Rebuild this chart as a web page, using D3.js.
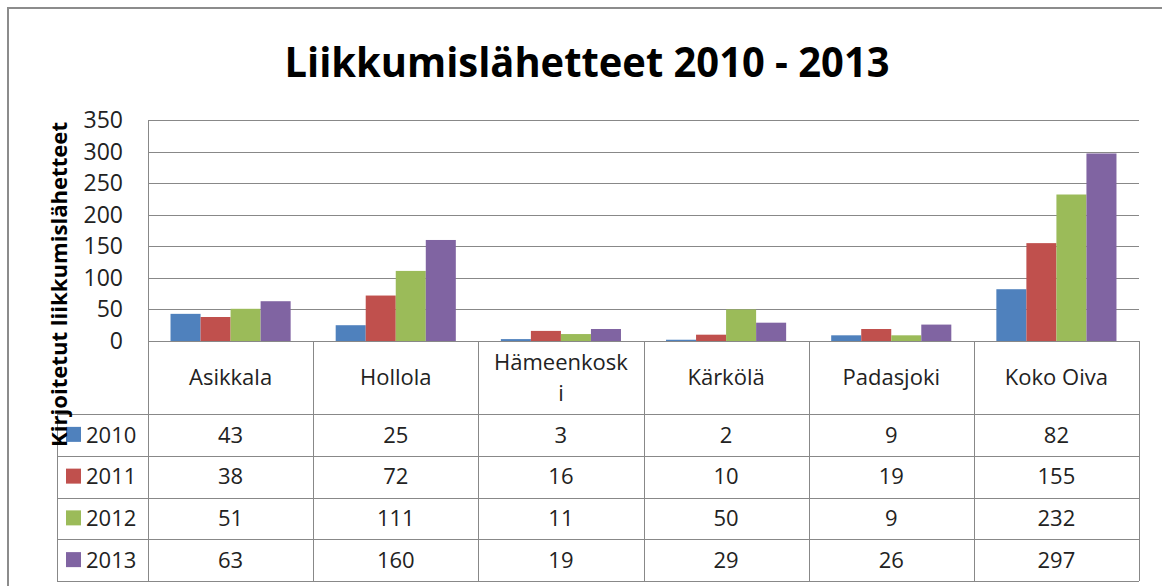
<!DOCTYPE html>
<html lang="fi">
<head>
    <meta charset="UTF-8">
    <title>Liikkumislähetteet 2010 - 2013</title>
    <script src="https://d3js.org/d3.v7.min.js"></script>
    <style>
        body {
            margin: 0;
            background-color: #fff;
        }
        svg text {
            font-family: "Open Sans", "Noto Sans", sans-serif;
        }
    </style>
</head>
<body>
    <svg id="chart" width="1162" height="586"></svg>
    <script>
        // Data
        const categories = ["Asikkala", "Hollola", "Hämeenkoski", "Kärkölä", "Padasjoki", "Koko Oiva"];
        const years = ["2010", "2011", "2012", "2013"];
        const values2010 = [43, 25, 3, 2, 9, 82];
        const values2011 = [38, 72, 16, 10, 19, 155];
        const values2012 = [51, 111, 11, 50, 9, 232];
        const values2013 = [63, 160, 19, 29, 26, 297];
        const yTicks = [0, 50, 100, 150, 200, 250, 300, 350];
        const colors = ["#4f81bd", "#c0504d", "#9bbb59", "#8064a2"];

        const series = [values2010, values2011, values2012, values2013];
        // Excel wrapped this header cell
        const headerLines = categories.map(c => c === "Hämeenkoski" ? ["Hämeenkosk", "i"] : [c]);

        const svg = d3.select("#chart");
        const gridColor = "#888";

        // Layout
        const plotLeft = 148, plotRight = 1139, plotTop = 120, plotBottom = 341;
        const legendLeft = 57;
        const headerBottom = 414;
        const rowH = 41.75;

        const x = d3.scaleBand().domain(categories).range([plotLeft, plotRight]);
        const xInner = d3.scaleBand().domain(years).range([0, x.bandwidth()])
            .paddingInner(0).paddingOuter(0.75);
        const y = d3.scaleLinear().domain([0, 350]).range([plotBottom, plotTop]);

        // Outer frame (left and top only visible)
        svg.append("path")
            .attr("d", "M8,586 L8,8 L1162,8")
            .attr("fill", "none")
            .attr("stroke", "#8c8c8c")
            .attr("stroke-width", 2);

        // Title
        svg.append("text")
            .attr("x", 587)
            .attr("y", 77)
            .attr("text-anchor", "middle")
            .attr("font-size", 42)
            .attr("font-weight", "bold")
            .attr("textLength", 605)
            .attr("lengthAdjust", "spacingAndGlyphs")
            .text("Liikkumislähetteet 2010 - 2013");

        // Gridlines
        svg.append("g")
            .selectAll("line")
            .data(yTicks)
            .join("line")
            .attr("x1", plotLeft)
            .attr("x2", plotRight)
            .attr("y1", d => Math.round(y(d)) + 0.5)
            .attr("y2", d => Math.round(y(d)) + 0.5)
            .attr("stroke", gridColor)
            .attr("stroke-width", 1);

        // Y axis tick labels
        svg.append("g")
            .selectAll("text")
            .data(yTicks)
            .join("text")
            .attr("x", 123)
            .attr("y", d => y(d))
            .attr("dy", "0.35em")
            .attr("text-anchor", "end")
            .attr("font-size", 23)
            .attr("fill", "#222")
            .text(d => d);

        // Bars
        const groups = svg.append("g")
            .selectAll("g")
            .data(series)
            .join("g")
            .attr("fill", (d, i) => colors[i]);

        groups.selectAll("rect")
            .data((vals, i) => vals.map((v, j) => ({ cat: categories[j], year: years[i], v })))
            .join("rect")
            .attr("x", d => x(d.cat) + xInner(d.year))
            .attr("width", xInner.bandwidth())
            .attr("y", d => y(d.v))
            .attr("height", d => y(0) - y(d.v));

        // Data table lines
        const tableBottom = headerBottom + rowH * years.length;
        const table = svg.append("g")
            .attr("stroke", gridColor)
            .attr("stroke-width", 1);

        // left axis line through the table
        table.append("line")
            .attr("x1", plotLeft + 0.5).attr("x2", plotLeft + 0.5)
            .attr("y1", plotTop).attr("y2", tableBottom);

        // column separators
        table.selectAll(".col")
            .data(categories)
            .join("line")
            .attr("x1", d => Math.round(x(d) + x.bandwidth()) + 0.5)
            .attr("x2", d => Math.round(x(d) + x.bandwidth()) + 0.5)
            .attr("y1", plotBottom)
            .attr("y2", tableBottom);

        // legend column left edge
        table.append("line")
            .attr("x1", legendLeft + 0.5).attr("x2", legendLeft + 0.5)
            .attr("y1", headerBottom).attr("y2", tableBottom);

        // row separators
        table.selectAll(".row")
            .data(d3.range(years.length + 1))
            .join("line")
            .attr("x1", legendLeft)
            .attr("x2", plotRight)
            .attr("y1", i => Math.round(headerBottom + i * rowH) + 0.5)
            .attr("y2", i => Math.round(headerBottom + i * rowH) + 0.5);

        // Header labels
        const header = svg.append("g")
            .selectAll("text")
            .data(categories)
            .join("text")
            .attr("text-anchor", "middle")
            .attr("font-size", 22)
            .attr("fill", "#222");

        header.each(function (d, i) {
            const lines = headerLines[i];
            const cx = x(d) + x.bandwidth() / 2;
            const cy = (plotBottom + headerBottom) / 2;
            const lh = 31;
            lines.forEach((ln, k) => {
                d3.select(this).append("tspan")
                    .attr("x", cx)
                    .attr("y", cy + (k - (lines.length - 1) / 2) * lh)
                    .attr("dy", "0.35em")
                    .text(ln);
            });
        });

        // Table rows: legend keys, years and values
        years.forEach((yr, i) => {
            const cy = headerBottom + (i + 0.5) * rowH;
            svg.append("rect")
                .attr("x", 66)
                .attr("y", cy - 8)
                .attr("width", 15)
                .attr("height", 15)
                .attr("fill", colors[i]);
            svg.append("text")
                .attr("x", 86)
                .attr("y", cy)
                .attr("dy", "0.35em")
                .attr("font-size", 22)
                .attr("fill", "#222")
                .text(yr);
            svg.append("g")
                .selectAll("text")
                .data(series[i])
                .join("text")
                .attr("x", (d, j) => x(categories[j]) + x.bandwidth() / 2)
                .attr("y", cy)
                .attr("dy", "0.35em")
                .attr("text-anchor", "middle")
                .attr("font-size", 22)
                .attr("fill", "#222")
                .text(d => d);
        });

        // Y axis title
        svg.append("text")
            .attr("transform", "translate(67,284.5) rotate(-90)")
            .attr("text-anchor", "middle")
            .attr("font-size", 22)
            .attr("font-weight", "bold")
            .attr("textLength", 325)
            .attr("lengthAdjust", "spacingAndGlyphs")
            .text("Kirjoitetut liikkumislähetteet");
    </script>
</body>
</html>
